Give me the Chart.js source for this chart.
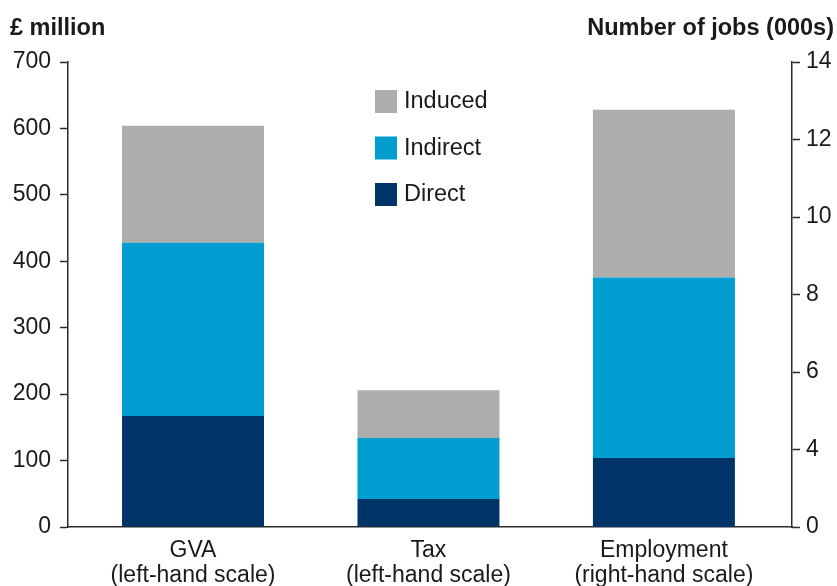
<!DOCTYPE html>
<html>
<head>
<meta charset="utf-8">
<script src="https://cdn.jsdelivr.net/npm/chart.js@4"></script>
<style>
	body { margin: 0; background: #fff; }
	canvas { display: block; }
</style>
</head>
<body>
<canvas id="chart" width="837" height="586"></canvas>
<script>
// categories (x axis, two lines each)
const categories = [
	['GVA', '(left-hand scale)'],
	['Tax', '(left-hand scale)'],
	['Employment', '(right-hand scale)']
];

// £ million, left-hand scale (GVA, Tax)
const directLeft = [167, 42, null];
const indirectLeft = [261, 92, null];
const inducedLeft = [176, 72, null];

// thousands of jobs, right-hand scale (Employment)
const directRight = [null, null, 3.78];
const indirectRight = [null, null, 4.66];
const inducedRight = [null, null, 4.33];

// tick labels as printed on each axis
const leftTicks = [0, 100, 200, 300, 400, 500, 600, 700];
const rightTickLabels = ['0', '4', '6', '8', '10', '12', '14'];

const leftTitle = '£ million';
const rightTitle = 'Number of jobs (000s)';

const colours = {
	Direct: '#003469',
	Indirect: '#009dd0',
	Induced: '#adadac'
};

const FONT = '"Liberation Sans", Arial, Helvetica, sans-serif';
const INK = '#1a1a1a';
const AXIS = '#2b2b2b';

// the bars sit a little off-centre in the original, so x is a linear index axis
function barSet(label, data, axis) {
	return {
		label: label,
		data: data.map((v, i) => ({ x: i, y: v })),
		yAxisID: axis,
		backgroundColor: colours[label],
		borderWidth: 0,
		grouped: false,
		barPercentage: 1,
		categoryPercentage: 0.603
	};
}

// titles over the axes + the legend inside the plot
const decorations = {
	id: 'decorations',
	afterDraw(chart) {
		const ctx = chart.ctx;
		ctx.save();
		ctx.fillStyle = INK;
		ctx.font = 'bold 23.5px ' + FONT;
		ctx.textBaseline = 'alphabetic';
		ctx.textAlign = 'left';
		ctx.fillText(leftTitle, 10, 35);
		ctx.textAlign = 'right';
		ctx.fillText(rightTitle, 834, 35);

		// legend: top of the stack first
		const names = ['Induced', 'Indirect', 'Direct'];
		ctx.font = '23.5px ' + FONT;
		ctx.textAlign = 'left';
		ctx.textBaseline = 'middle';
		names.forEach((name, i) => {
			const y = 90 + i * 46.5;
			ctx.fillStyle = colours[name];
			ctx.fillRect(375, y, 22, 23);
			ctx.fillStyle = INK;
			ctx.fillText(name, 404, y + 12);
		});
		ctx.restore();
	}
};

const axisGrid = {
	drawOnChartArea: false,
	drawTicks: true,
	tickLength: 8,
	tickWidth: 1.5,
	color: AXIS
};

new Chart(document.getElementById('chart').getContext('2d'), {
	type: 'bar',
	data: {
		datasets: [
			barSet('Direct', directLeft, 'y'),
			barSet('Indirect', indirectLeft, 'y'),
			barSet('Induced', inducedLeft, 'y'),
			barSet('Direct', directRight, 'y1'),
			barSet('Indirect', indirectRight, 'y1'),
			barSet('Induced', inducedRight, 'y1')
		]
	},
	options: {
		responsive: false,
		animation: false,
		devicePixelRatio: 1,
		layout: { padding: { top: 62, left: 0, right: 0, bottom: 0 } },
		plugins: {
			legend: { display: false },
			tooltip: { enabled: false }
		},
		scales: {
			x: {
				type: 'linear',
				stacked: true,
				offset: false,
				min: -0.531,
				max: 2.544,
				grid: { display: false },
				border: { display: true, color: AXIS, width: 1.5 },
				afterBuildTicks(scale) {
					scale.ticks = categories.map((c, i) => ({ value: i }));
				},
				ticks: {
					color: INK,
					font: { family: FONT, size: 23, lineHeight: 1.1 },
					padding: 3,
					maxRotation: 0,
					autoSkip: false,
					callback: (value) => categories[value]
				},
				afterFit(scale) { scale.height = 59; }
			},
			y: {
				position: 'left',
				stacked: true,
				min: leftTicks[0],
				max: leftTicks[leftTicks.length - 1],
				grid: axisGrid,
				border: { display: true, color: AXIS, width: 1.5 },
				ticks: {
					stepSize: 100,
					color: INK,
					padding: 9,
					font: { family: FONT, size: 23 }
				},
				afterFit(scale) { scale.width = 68; }
			},
			y1: {
				position: 'right',
				stacked: true,
				min: 2,
				max: 14,
				grid: axisGrid,
				border: { display: true, color: AXIS, width: 1.5 },
				ticks: {
					stepSize: 2,
					color: INK,
					padding: 6,
					font: { family: FONT, size: 23 },
					callback: (value, index) => rightTickLabels[index]
				},
				afterFit(scale) { scale.width = 45; }
			}
		}
	},
	plugins: [decorations]
});
</script>
</body>
</html>
